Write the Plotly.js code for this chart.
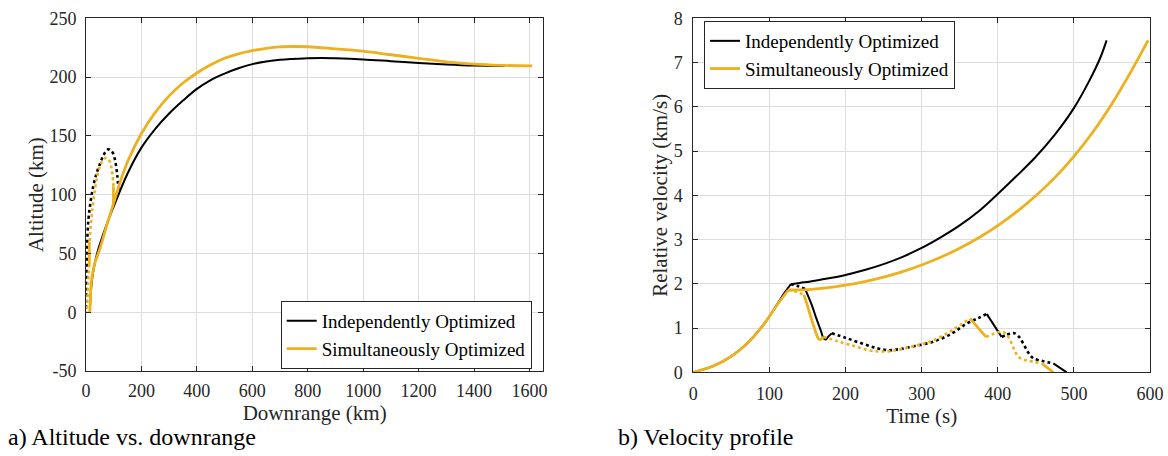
<!DOCTYPE html>
<html>
<head>
<meta charset="utf-8">
<script src="https://cdn.plot.ly/plotly-3.0.1.min.js"></script>
<style>
html,body{margin:0;padding:0;background:#fff;}
#chart{width:1168px;height:456px;}
</style>
</head>
<body>
<div id="chart"></div>
<script>
// ---------- (a) Altitude vs. downrange ----------
const indepAscentX = [14,16,20,27,40,60,80,100,150,200,250,300,350,400,450,500,550,600,650,700,800,850,900,1000,1100,1200,1300,1400,1510];
const indepAscentY = [0,12,24,36,50,65,78,90,118,140,156,169,180,190,197.5,203,207.5,211,213.2,214.7,216,216.3,216,215,213.5,212,210.7,209.8,209.5];
const simulAscentX = [14,16,20,30,50,75,100,125,150,200,250,300,350,400,450,500,550,600,650,700,750,800,900,1000,1100,1200,1300,1400,1500,1610];
const simulAscentY = [0,12,27,40,54,74,93,112,128,152,170,184,195,203.5,210.5,216,219.8,222.5,224.5,225.7,226,225.8,224,222,219,216,213,211,210,209.5];
const indepReturnX = [117,113,106,97,88,80,72,62,50,38,26,16,8.4,4.5,2.4,1,0];
const indepReturnY = [104,116,128,135.5,138,138.5,137,133,126,118,107,93,78,60,41.5,20,0];
const simulReturnX = [99,96,91,84,76,69,60,50,40,32,24,18,13];
const simulReturnY = [107,116,124,129,131,131,129,124,115,104,90,76,60];
const simulBurn1X = [99,99];
const simulBurn1Y = [93,107];
const simulBurn2X = [12,12];
const simulBurn2Y = [60,41];
const simulLandX = [12,8,5,3];
const simulLandY = [41,25,10,0];
const altXTicks = [0,200,400,600,800,1000,1200,1400,1600];
const altXTickText = ["0","200","400","600","800","1000","1200","1400","1600"];
const altYTicks = [-50,0,50,100,150,200,250];
const altYTickText = ["-50","0","50","100","150","200","250"];

// ---------- (b) Velocity profile ----------
const indepLiftT = [0,10,26,48,70,92,110,120,128];
const indepLiftV = [0,0.05,0.14,0.34,0.64,1.07,1.53,1.8,1.99];
const indepUpperT = [128,140,160,180,200,225,250,275,300,325,350,375,400,425,450,475,500,520,535,543];
const indepUpperV = [1.99,2.02,2.07,2.13,2.2,2.31,2.445,2.61,2.81,3.05,3.32,3.64,4.03,4.44,4.87,5.37,5.97,6.58,7.12,7.5];
const simulLiftT = [0,10,26,48,70,92,110,124.8];
const simulLiftV = [0,0.05,0.14,0.34,0.64,1.07,1.52,1.86];
const simulUpperT = [124.8,150,175,200,225,250,275,300,325,350,375,400,425,450,475,500,525,550,575,597.5];
const simulUpperV = [1.86,1.87,1.91,1.97,2.05,2.15,2.275,2.425,2.6,2.805,3.04,3.315,3.63,3.99,4.4,4.88,5.43,6.07,6.795,7.5];
const indepCoast1T = [128,137,147];
const indepCoast1V = [1.99,1.95,1.88];
const indepBurn1T = [147,155,162,168,171,174,177,181.8];
const indepBurn1V = [1.88,1.55,1.2,0.92,0.77,0.74,0.8,0.88];
const indepCoast2T = [181.8,200,220,240,255,270,290,315,340,359,375,385.4];
const indepCoast2V = [0.88,0.78,0.66,0.55,0.5,0.52,0.59,0.69,0.88,1.1,1.23,1.32];
const indepBurn2T = [385.4,395,405];
const indepBurn2V = [1.32,1.06,0.8];
const indepCoast3T = [405,412,418,422.6,428,433.5,440,446.7,460,473];
const indepCoast3V = [0.8,0.85,0.88,0.88,0.8,0.65,0.45,0.32,0.25,0.2];
const indepBurn3T = [473,482,490.5];
const indepBurn3V = [0.2,0.1,0];
const simulCoast1T = [124.8,135,145.4];
const simulCoast1V = [1.86,1.82,1.75];
const simulBurn1T = [145.4,150,155,160,164,166,168,171];
const simulBurn1V = [1.75,1.5,1.22,0.95,0.77,0.74,0.75,0.8];
const simulCoast2T = [171,190,210,230,245,260,280,300,315,340,363.5];
const simulCoast2V = [0.8,0.7,0.6,0.5,0.47,0.48,0.55,0.64,0.72,0.95,1.22];
const simulBurn2T = [363.5,374,384.5];
const simulBurn2V = [1.22,1.0,0.8];
const simulCoast3T = [384.5,395,405,410,416,422,427,435,446.7,457.7];
const simulCoast3V = [0.8,0.87,0.92,0.88,0.73,0.5,0.35,0.28,0.24,0.2];
const simulBurn3T = [457.7,465,473];
const simulBurn3V = [0.2,0.1,0];
const velXTicks = [0,100,200,300,400,500,600];
const velYTicks = [0,1,2,3,4,5,6,7,8];

const seriesNames = ["Independently Optimized","Simultaneously Optimized"];
const BLACK = "#000000";
const ORANGE = "#EDB120";
const FONT = "Liberation Serif";
const TXT = "#262626";

function ln(x, y, color, dash, width, xa, ya, shape, extra) {
  return Object.assign({x: x, y: y, type: "scatter", mode: "lines", xaxis: xa, yaxis: ya,
    line: {color: color, width: width, dash: dash, shape: shape || "spline", smoothing: 1},
    showlegend: false, hoverinfo: "skip"}, extra || {});
}

const BW = 2, OW = 2.8, DW = 2.6;
const traces = [
  ln(indepReturnX, indepReturnY, BLACK, "dot", DW, "x", "y"),
  ln(indepAscentX, indepAscentY, BLACK, "solid", BW, "x", "y", "spline", {name: seriesNames[0], showlegend: true, legend: "legend"}),
  ln(simulReturnX, simulReturnY, ORANGE, "dot", DW, "x", "y"),
  ln(simulLandX, simulLandY, ORANGE, "dot", DW, "x", "y"),
  ln(simulBurn1X, simulBurn1Y, ORANGE, "solid", OW, "x", "y", "linear"),
  ln(simulBurn2X, simulBurn2Y, ORANGE, "solid", OW, "x", "y", "linear"),
  ln(simulAscentX, simulAscentY, ORANGE, "solid", OW, "x", "y", "spline", {name: seriesNames[1], showlegend: true, legend: "legend"}),
  ln(indepUpperT, indepUpperV, BLACK, "solid", BW, "x2", "y2", "spline", {name: seriesNames[0], showlegend: true, legend: "legend2"}),
  ln(indepLiftT, indepLiftV, BLACK, "solid", BW, "x2", "y2"),
  ln(indepCoast1T, indepCoast1V, BLACK, "dot", DW, "x2", "y2"),
  ln(indepBurn1T, indepBurn1V, BLACK, "solid", BW, "x2", "y2"),
  ln(indepCoast2T, indepCoast2V, BLACK, "dot", DW, "x2", "y2"),
  ln(indepBurn2T, indepBurn2V, BLACK, "solid", BW, "x2", "y2", "linear"),
  ln(indepCoast3T, indepCoast3V, BLACK, "dot", DW, "x2", "y2"),
  ln(indepBurn3T, indepBurn3V, BLACK, "solid", BW, "x2", "y2", "linear"),
  ln(simulCoast1T, simulCoast1V, ORANGE, "dot", DW, "x2", "y2"),
  ln(simulBurn1T, simulBurn1V, ORANGE, "solid", OW, "x2", "y2"),
  ln(simulCoast2T, simulCoast2V, ORANGE, "dot", DW, "x2", "y2"),
  ln(simulBurn2T, simulBurn2V, ORANGE, "solid", OW, "x2", "y2", "linear"),
  ln(simulCoast3T, simulCoast3V, ORANGE, "dot", DW, "x2", "y2"),
  ln(simulBurn3T, simulBurn3V, ORANGE, "solid", OW, "x2", "y2", "linear"),
  ln(simulLiftT, simulLiftV, ORANGE, "solid", OW, "x2", "y2"),
  ln(simulUpperT, simulUpperV, ORANGE, "solid", OW, "x2", "y2", "spline", {name: seriesNames[1], showlegend: true, legend: "legend2"})
];

const W = 1168, H = 456;
function px2x(p) { return p / W; }
function px2y(p) { return 1 - p / H; }

const axisCommon = {
  showline: true, linecolor: TXT, linewidth: 1, mirror: "ticks",
  ticks: "inside", ticklen: 5, tickwidth: 1, tickcolor: TXT,
  showgrid: true, gridcolor: "#dcdcdc", gridwidth: 1, zeroline: false,
  tickfont: {family: FONT, size: 18, color: TXT}, automargin: false,
  tickmode: "array"
};
const titleFont = {family: FONT, size: 21, color: TXT};

const layout = {
  width: W, height: H,
  margin: {l: 0, r: 0, t: 0, b: 0},
  paper_bgcolor: "#ffffff", plot_bgcolor: "#ffffff",
  font: {family: FONT, color: TXT},
  xaxis: Object.assign({}, axisCommon, {
    domain: [px2x(86), px2x(543.3)], range: [0, 1650], anchor: "y",
    tickvals: altXTicks, ticktext: altXTickText, ticklabelstandoff: 3,
    title: {text: "Downrange (km)", font: titleFont, standoff: 2}
  }),
  yaxis: Object.assign({}, axisCommon, {
    domain: [px2y(371), px2y(18.3)], range: [-50, 250], anchor: "x",
    tickvals: altYTicks, ticktext: altYTickText, ticklabelstandoff: 5,
    title: {text: "Altitude (km)", font: titleFont, standoff: 0}
  }),
  xaxis2: Object.assign({}, axisCommon, {
    domain: [px2x(693.3), px2x(1150)], range: [0, 600], anchor: "y2",
    tickvals: velXTicks, ticktext: velXTicks.map(String), ticklabelstandoff: 5,
    title: {text: "Time (s)", font: titleFont, standoff: 2}
  }),
  yaxis2: Object.assign({}, axisCommon, {
    domain: [px2y(372.3), px2y(18.3)], range: [0, 8], anchor: "x2",
    tickvals: velYTicks, ticktext: velYTicks.map(String), ticklabelstandoff: 6,
    title: {text: "Relative velocity (km/s)", font: titleFont, standoff: 0}
  }),
  legend: {
    x: px2x(531.7), y: px2y(335), xanchor: "right", yanchor: "middle",
    bgcolor: "#ffffff", bordercolor: TXT, borderwidth: 1,
    font: {family: FONT, size: 19, color: "#000"}, tracegroupgap: 0, itemwidth: 30
  },
  legend2: {
    x: px2x(704), y: px2y(55), xanchor: "left", yanchor: "middle",
    bgcolor: "#ffffff", bordercolor: TXT, borderwidth: 1,
    font: {family: FONT, size: 19, color: "#000"}, tracegroupgap: 0, itemwidth: 30
  },
  annotations: [
    {text: "a) Altitude vs. downrange", xref: "paper", yref: "paper", x: px2x(6), y: px2y(437),
     xanchor: "left", yanchor: "middle", showarrow: false, font: {family: FONT, size: 24, color: "#000"}},
    {text: "b) Velocity profile", xref: "paper", yref: "paper", x: px2x(616), y: px2y(437),
     xanchor: "left", yanchor: "middle", showarrow: false, font: {family: FONT, size: 24, color: "#000"}}
  ],
  showlegend: true
};

Plotly.newPlot("chart", traces, layout, {displayModeBar: false});
</script>
</body>
</html>
